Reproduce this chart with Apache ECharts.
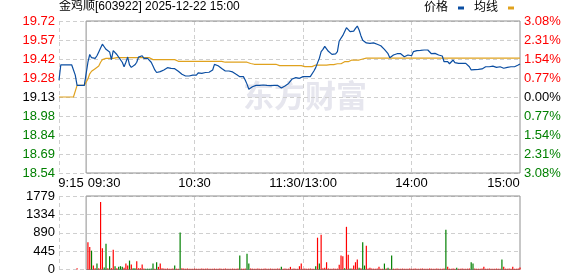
<!DOCTYPE html>
<html><head><meta charset="utf-8">
<script src="https://cdn.jsdelivr.net/npm/echarts@6/dist/echarts.min.js"></script>
<style>html,body{margin:0;padding:0;background:#fff}#c{width:578px;height:276px}</style>
</head><body><div id="c"></div>
<script>
const titleText = '金鸡顺[603922] 2025-12-22 15:00';
const legendNames = ['价格', '均线'];
const prevClose = 19.13;
const priceMin = 18.54, priceMax = 19.72;
const pctMin = -3.08, pctMax = 3.08, pctStep = 0.77;
const priceTickLabels = ['18.54','18.69','18.84','18.98','19.13','19.28','19.42','19.57','19.72'];
const pctTickLabels = ['3.08%','2.31%','1.54%','0.77%','0.00%','0.77%','1.54%','2.31%','3.08%'];
const volMax = 1779, volStep = 444.75;
const volTickLabels = ['0','445','890','1334','1779'];
const xTickTimes = ['09:15','09:30','10:30','11:30','14:00','15:00'];
const xTickText  = ['9:15','09:30','10:30','11:30/13:00','14:00','15:00'];
const gridTimes = ['09:15','10:30','11:30','14:00'];

// minute categories: 09:15-11:30, 13:01-15:00
const times = [];
function addRange(h0, m0, h1, m1) {
  let t = h0 * 60 + m0;
  const end = h1 * 60 + m1;
  for (; t <= end; t++) {
    times.push(String(Math.floor(t / 60)).padStart(2, '0') + ':' + String(t % 60).padStart(2, '0'));
  }
}
addRange(9, 15, 11, 30);
addRange(13, 1, 15, 0);

const price = [
19.26,19.38,19.38,19.38,19.38,19.38,19.38,19.38,19.37,19.30,19.22,19.22,19.22,19.22,19.22,
19.22,19.40,19.46,19.435,19.44,19.43,19.45,19.48,19.51,19.54,
19.52,19.50,19.51,19.48,19.42,19.49,19.48,19.46,19.44,19.435,
19.40,19.365,19.40,19.44,19.38,19.36,19.37,19.38,19.40,19.44,
19.43,19.45,19.43,19.44,19.43,19.435,19.40,19.37,19.34,19.32,
19.325,19.327,19.33,19.34,19.347,19.358,19.355,19.352,19.352,19.35,
19.347,19.33,19.32,19.306,19.296,19.293,19.293,19.293,19.296,19.30,
19.31,19.30,19.317,19.32,19.314,19.317,19.32,19.322,19.322,19.317,
19.34,19.383,19.373,19.373,19.365,19.352,19.34,19.332,19.327,19.332,
19.33,19.325,19.314,19.306,19.293,19.288,19.288,19.288,19.262,19.23,
19.19,19.20,19.21,19.218,19.22,19.22,19.22,19.22,19.223,19.21,
19.22,19.225,19.218,19.22,19.22,19.218,19.22,19.218,19.20,19.21,
19.216,19.225,19.235,19.245,19.27,19.262,19.28,19.275,19.275,19.29,
19.288,19.293,19.288,19.28,19.288,19.30,19.332,19.358,19.395,19.43,
19.482,19.50,19.523,19.508,19.485,19.472,19.461,19.469,19.465,19.482,
19.565,19.573,19.608,19.598,19.668,19.673,19.637,19.627,19.642,19.663,
19.681,19.65,19.606,19.57,19.56,19.55,19.554,19.547,19.547,19.55,
19.56,19.539,19.534,19.528,19.515,19.50,19.49,19.466,19.435,19.435,
19.456,19.458,19.466,19.469,19.466,19.456,19.443,19.43,19.456,19.46,
19.45,19.482,19.49,19.49,19.49,19.492,19.492,19.495,19.495,19.495,
19.487,19.466,19.469,19.469,19.46,19.456,19.456,19.448,19.404,19.397,
19.404,19.388,19.40,19.417,19.397,19.388,19.391,19.391,19.391,19.391,
19.391,19.388,19.365,19.34,19.327,19.343,19.345,19.345,19.345,19.348,
19.358,19.365,19.358,19.365,19.38,19.37,19.365,19.36,19.365,19.365,
19.358,19.353,19.345,19.36,19.365,19.365,19.365,19.365,19.373,19.378,
19.386
];

const avgPrice = [
19.13,19.13,19.13,19.13,19.13,19.13,19.13,19.13,19.13,19.13,
19.22,19.22,19.22,19.22,19.22,19.22,
19.27,19.31,19.33,19.34,19.35,19.36,19.37,19.40,19.42,19.425,
19.43,19.43,19.43,19.43,19.43,19.43,
19.435,19.435,19.435,19.435,19.435,19.435,19.435,19.435,19.435,19.435,
19.435,19.435,19.435,19.435,19.435,19.435,19.435,19.435,19.435,19.435,
19.42,19.42,19.42,19.42,19.42,19.42,19.42,19.42,19.42,19.42,19.42,19.42,19.42,19.42,
19.407,19.407,19.407,19.407,19.407,19.407,19.407,19.407,19.407,19.407,19.407,19.407,19.407,
19.407,19.407,19.407,19.407,19.407,19.407,19.407,19.407,19.407,19.407,19.407,19.407,19.407,
19.40,19.40,19.40,19.40,19.40,19.40,19.40,19.40,19.40,19.40,19.40,19.40,19.40,
19.39,19.39,19.39,
19.384,19.384,19.384,19.384,19.384,19.384,19.384,19.384,19.384,19.384,19.384,19.384,19.384,19.384,
19.374,19.374,19.374,19.374,19.374,19.374,19.374,19.374,19.374,19.374,19.374,19.374,19.374,19.374,
19.366,19.366,19.366,19.366,19.366,19.366,
19.378,19.378,19.378,19.378,19.378,19.378,19.378,
19.382,19.382,19.382,19.382,
19.388,19.388,19.388,19.388,19.388,
19.404,19.404,19.404,19.404,
19.417,19.417,19.417,19.417,19.417,
19.425,19.425,
19.432,19.432,19.432,19.432,19.432,19.432,19.432,19.432,19.432,19.432,
19.432,19.432,19.432,19.432,19.432,19.432,19.432,19.432,19.432,19.432,
19.432,19.432,19.432,19.432,19.432,19.432,19.432,19.432,19.432,19.432,
19.432,19.432,19.432,19.432,19.432,19.432,19.432,19.432,19.432,19.432,
19.432,19.432,19.432,19.432,19.432,19.432,19.432,19.432,19.432,19.432,
19.432,19.432,19.432,19.432,19.432,19.432,19.432,19.432,19.432,19.432,
19.432,19.432,19.432,19.432,19.432,19.432,19.432,19.432,19.432,19.432,
19.432,19.432,19.432,19.432,19.432,19.432,19.432,19.432,19.432,19.432,
19.432,19.432,19.432,19.432,19.432,19.432,19.432
];

const volume = [
0,0,0,0,0,0,0,0,0,0,
32,0,0,0,0,
0,657,545,456,96,32,144,32,1634,513,
48,625,32,320,32,481,80,32,64,80,
64,40,144,96,216,120,30,30,200,30,
30,120,25,20,20,20,25,144,20,176,
64,144,30,22,18,25,20,18,22,96,
20,20,897,30,25,18,22,20,18,20,
22,20,18,20,22,18,20,22,20,18,
20,22,18,20,22,20,18,22,20,18,
20,22,18,20,24,336,20,18,22,384,
144,22,20,18,20,22,20,18,20,22,
20,18,22,20,18,20,22,20,64,20,
22,18,20,64,20,22,18,20,80,144,
20,22,18,20,22,20,18,80,770,144,
841,30,40,176,22,20,18,22,20,22,
112,336,320,30,1033,360,25,25,96,176,
240,40,30,657,96,577,25,40,22,20,
18,22,64,20,18,144,22,40,20,336,
20,18,22,20,18,22,20,18,20,22,
18,20,22,20,18,20,22,20,18,20,
22,20,18,20,22,20,18,20,22,961,
64,20,18,22,20,40,18,20,22,20,
18,20,22,176,144,22,20,18,20,22,
64,20,18,22,20,18,20,22,20,18,
240,64,20,18,22,20,64,18,20,22,
48
];

// r = up (red), g = down (green), . = no trade
const volDir =
  '..........' + 'r....' +
  '.rrgrrgrrr' + 'ggrgrrgrgg' + 'grrrgrggrr' + 'rrrgggggrg' +
  'rrrrrrrrrg' + 'rrgrrrrrrr' + 'rrrrrrrrrr' + 'rrrrrrrrrr' +
  'rrrrrgrrrg' + 'grrrrrrrrr' + 'rrrrrrrrgr' + 'rrrrrrrrrr' +
  'rrrrrrrgrg' + 'rrrrrrrrrr' + 'rrrgrrgrrr' + 'rgrggrrrrr' +
  'rrrrrgrgrg' + 'rrrrrrrrrr' + 'rrrrrrrrrr' + 'rrrrrrrrrg' +
  'rrrrrgrrrr' + 'rrrggrrrrr' + 'rrrrrrrrrr' + 'grrrrrrrrr' + 'r';

const RED = '#ff0000', GREEN = '#008000', BLACK = '#000000';
const FONT = '"Liberation Sans", Arial, sans-serif';
const CJK = '"Liberation Sans", "Noto Sans CJK SC", sans-serif';
const dashed = { color: '#cfcfcf', width: 1, type: [4, 3] };
const boxArea = {
  silent: true,
  itemStyle: { color: 'rgba(0,0,0,0)', borderColor: '#8f8f8f', borderWidth: 1 },
  data: [[{ xAxis: '09:30' }, { xAxis: '15:00' }]]
};

function xLabel(value) {
  const k = xTickTimes.indexOf(value);
  if (k < 0) return '';
  const t = xTickText[k];
  if (k === 0) return '{l|' + t + '}';
  if (k === 1) return '{l2|' + t + '}';
  if (k === xTickTimes.length - 1) return '{r|' + t + '}';
  return t;
}

const chart = echarts.init(document.getElementById('c'), null, { renderer: 'canvas' });
chart.setOption({
  animation: false,
  backgroundColor: '#ffffff',
  title: {
    text: titleText, left: 59, top: 1, padding: 0,
    textStyle: { fontSize: 12, fontWeight: 'normal', color: '#000', fontFamily: CJK }
  },
  legend: {
    data: legendNames, right: 64, top: 2, padding: 0, align: 'right',
    icon: 'rect', itemWidth: 6, itemHeight: 3, itemGap: 10,
    textStyle: { fontSize: 12, color: '#000', fontFamily: CJK, padding: [0, 5, 0, 0] }
  },
  graphic: [{
    type: 'text', left: 243, top: 80, z: 0, silent: true,
    style: { text: '东方财富', font: 'bold 31px "Noto Sans CJK SC"', fill: '#e6e6ee' }
  }],
  grid: [
    { left: 59, right: 58, top: 21, height: 152 },
    { left: 59, right: 58, top: 196, height: 74 }
  ],
  xAxis: [{
    gridIndex: 0, type: 'category', data: times, boundaryGap: false,
    axisLine: { show: false }, axisTick: { show: false },
    axisLabel: {
      interval: (i, v) => xTickTimes.indexOf(v) >= 0,
      formatter: xLabel, color: '#000', fontSize: 13, fontFamily: FONT, margin: 4,
      rich: {
        l: { fontSize: 13, fontFamily: FONT, color: '#000', padding: [0, 0, 0, 24] },
        l2: { fontSize: 13, fontFamily: FONT, color: '#000', padding: [0, 0, 0, 36] },
        r: { fontSize: 13, fontFamily: FONT, color: '#000', padding: [0, 33, 0, 0] }
      }
    },
    splitLine: { show: true, interval: (i, v) => gridTimes.indexOf(v) >= 0, lineStyle: dashed }
  }, {
    gridIndex: 1, type: 'category', data: times, boundaryGap: false,
    axisLine: { show: false }, axisTick: { show: false }, axisLabel: { show: false },
    splitLine: { show: true, interval: (i, v) => gridTimes.indexOf(v) >= 0, lineStyle: dashed }
  }],
  yAxis: [{
    gridIndex: 0, type: 'value', position: 'left', min: pctMin, max: pctMax, interval: pctStep,
    axisLine: { show: false }, axisTick: { show: false },
    axisLabel: {
      formatter: (v, i) => priceTickLabels[i],
      color: (v) => Math.abs(v) < 1e-6 ? BLACK : (v > 0 ? RED : GREEN),
      fontSize: 13, fontFamily: FONT, margin: 4
    },
    splitLine: { show: true, lineStyle: dashed }
  }, {
    gridIndex: 0, type: 'value', position: 'right', min: pctMin, max: pctMax, interval: pctStep,
    axisLine: { show: false }, axisTick: { show: false },
    axisLabel: {
      formatter: (v, i) => pctTickLabels[pctTickLabels.length - 1 - i],
      color: (v) => Math.abs(v) < 1e-6 ? BLACK : (v > 0 ? RED : GREEN),
      fontSize: 13, fontFamily: FONT, margin: 4
    },
    splitLine: { show: false }
  }, {
    gridIndex: 0, type: 'value', show: false, min: priceMin, max: priceMax,
    splitLine: { show: false }
  }, {
    gridIndex: 1, type: 'value', position: 'left', min: 0, max: volMax, interval: volStep,
    axisLine: { show: false }, axisTick: { show: false },
    axisLabel: { formatter: (v, i) => volTickLabels[i], color: '#000', fontSize: 13, fontFamily: FONT, margin: 4 },
    splitLine: { show: true, lineStyle: dashed }
  }],
  series: [{
    name: legendNames[0], type: 'line', xAxisIndex: 0, yAxisIndex: 2, data: price,
    symbol: 'none', z: 4,
    lineStyle: { color: '#0b4ea2', width: 1.2 }, itemStyle: { color: '#0b4ea2' },
    markArea: boxArea
  }, {
    name: legendNames[1], type: 'line', xAxisIndex: 0, yAxisIndex: 2, data: avgPrice,
    symbol: 'none', z: 3,
    lineStyle: { color: '#e0a21e', width: 1.2 }, itemStyle: { color: '#e0a21e' }
  }, {
    name: '成交量', type: 'bar', xAxisIndex: 1, yAxisIndex: 3, data: volume,
    barWidth: 1.2,
    itemStyle: { color: (p) => volDir[p.dataIndex] === 'g' ? GREEN : RED }
  }, {
    name: '成交量框', type: 'line', xAxisIndex: 1, yAxisIndex: 3, data: [],
    symbol: 'none', silent: true, markArea: boxArea
  }]
});
</script>
</body></html>
